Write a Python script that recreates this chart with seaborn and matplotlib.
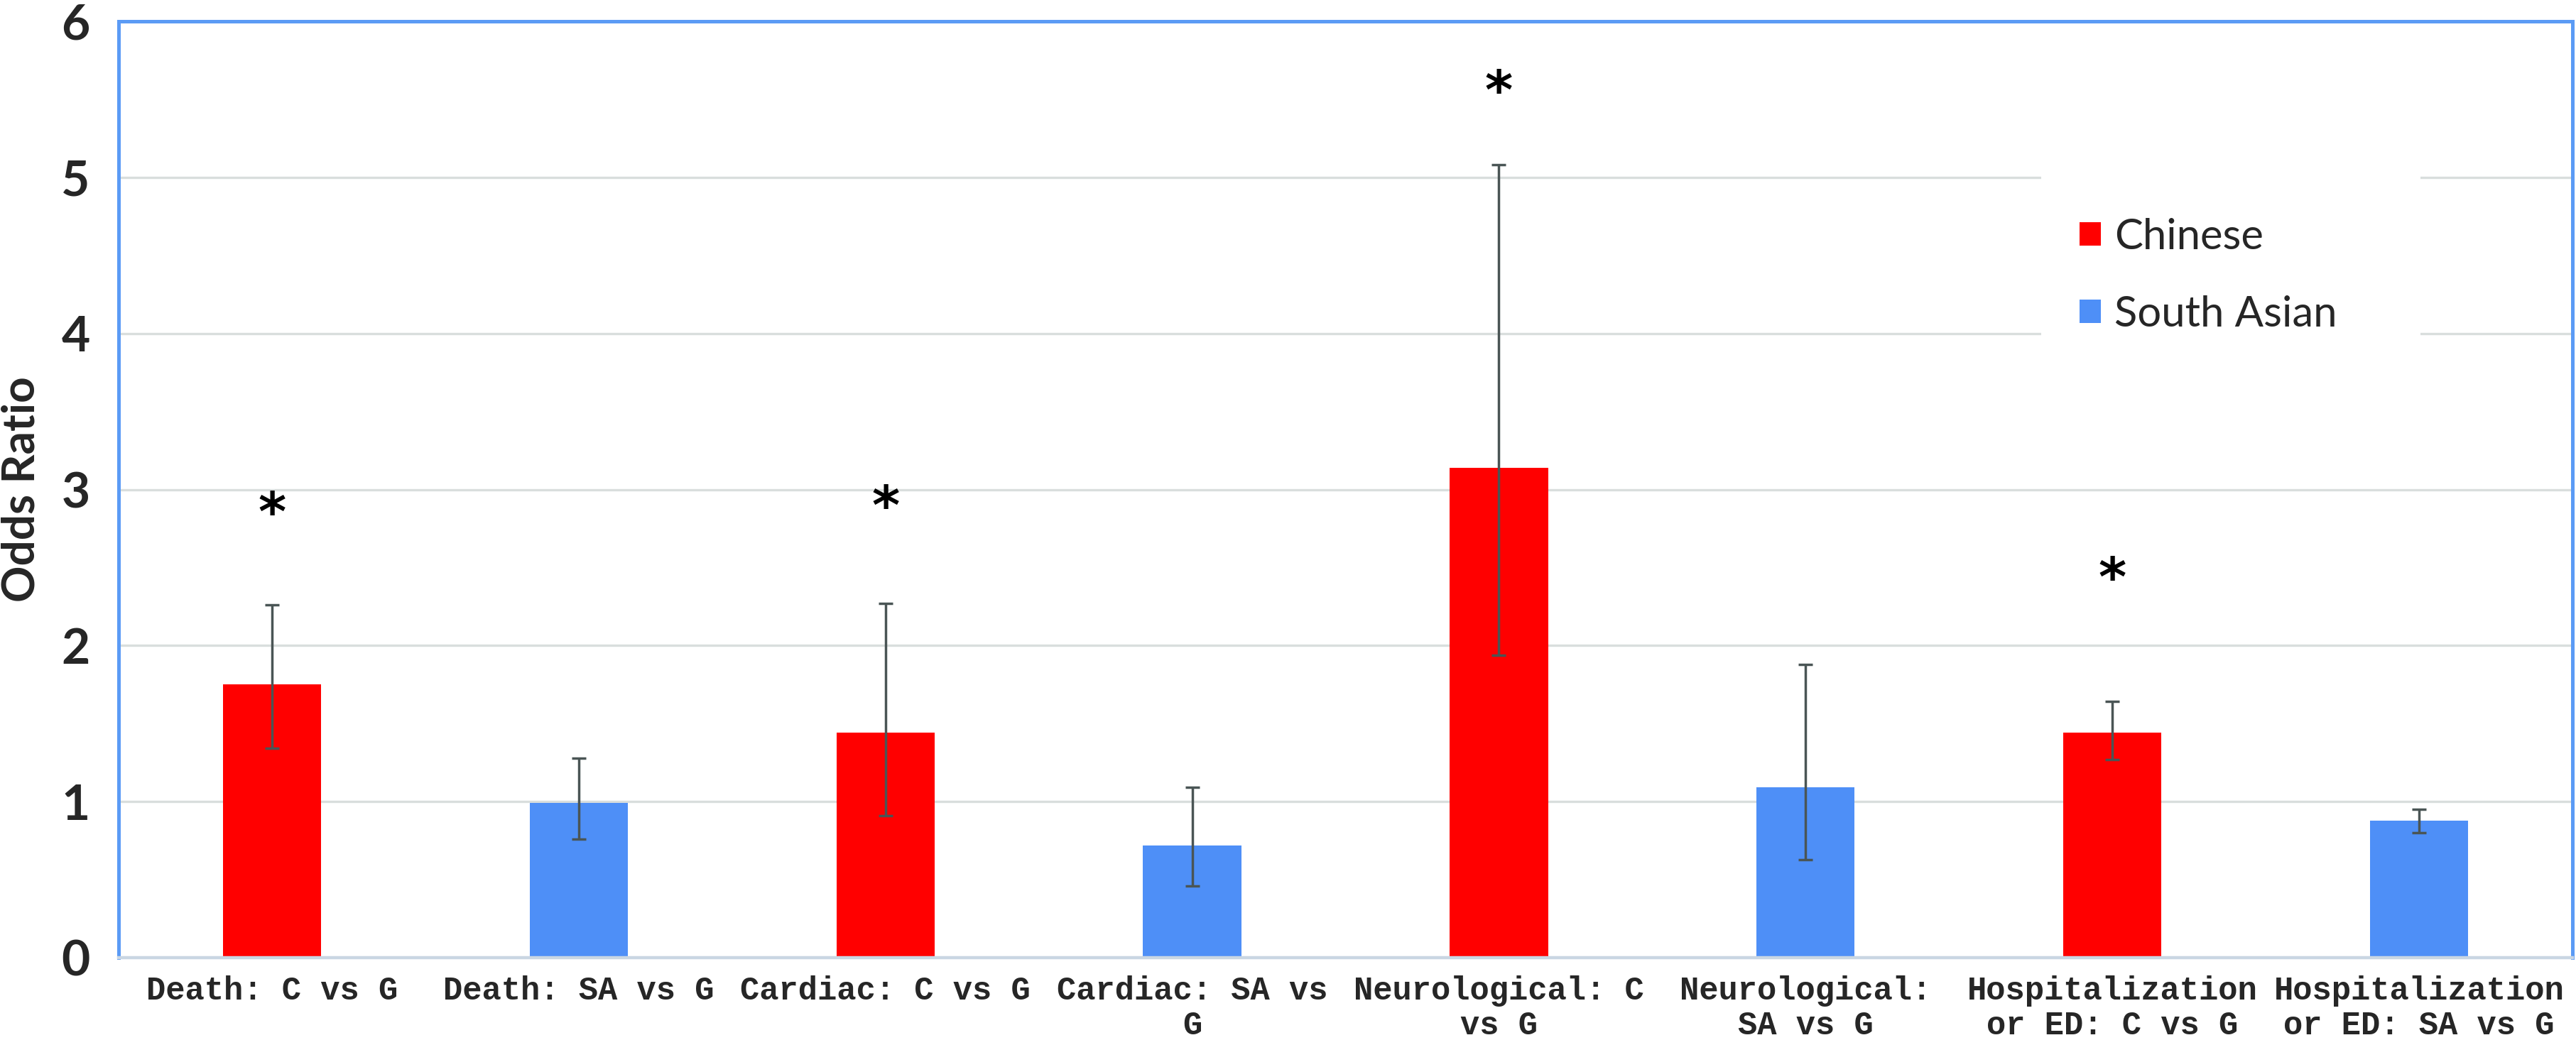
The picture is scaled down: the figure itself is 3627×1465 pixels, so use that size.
import pandas as pd
import matplotlib.pyplot as plt
import seaborn as sns
from matplotlib.patches import Rectangle

# Values
comparisons = [
    "Death: C vs G", "Death: SA vs G", "Cardiac: C vs G", "Cardiac: SA vs\nG",
    "Neurological: C\nvs G", "Neurological:\nSA vs G",
    "Hospitalization\nor ED: C vs G", "Hospitalization\nor ED: SA vs G",
]
groups = ["Chinese", "South Asian", "Chinese", "South Asian",
          "Chinese", "South Asian", "Chinese", "South Asian"]
odds_ratio = [1.75, 0.99, 1.44, 0.72, 3.14, 1.09, 1.44, 0.88]
ci_lower = [1.34, 0.76, 0.91, 0.46, 1.94, 0.63, 1.27, 0.80]
ci_upper = [2.26, 1.28, 2.27, 1.09, 5.08, 1.88, 1.64, 0.95]
significant = [True, False, True, False, True, False, True, False]
star_y = [2.92, None, 2.96, None, 5.62, None, 2.50, None]
y_ticks = [0, 1, 2, 3, 4, 5, 6]

RED = "#FF0000"
BLUE = "#4E8FF7"
SPINE = "#5B9BF5"
GRID = "#D9DEDD"
ERR = "#4A5555"


def main():
    df = pd.DataFrame({"comparison": comparisons, "group": groups,
                       "odds_ratio": odds_ratio})

    sns.set_theme(style="white")
    plt.rcParams["font.family"] = ["Lato", "DejaVu Sans"]

    W, H = 3627, 1465
    fig = plt.figure(figsize=(W / 200, H / 200), dpi=200)
    ax = fig.add_axes([167 / W, 1 - 1349 / H, 3455 / W, 1319 / H])

    sns.barplot(data=df, x="comparison", y="odds_ratio", hue="group",
                order=comparisons, hue_order=["Chinese", "South Asian"],
                palette={"Chinese": RED, "South Asian": BLUE},
                dodge=False, width=0.32, saturation=1, errorbar=None,
                linewidth=0, ax=ax)

    # asymmetric 95% CI error bars
    xs = list(range(len(comparisons)))
    yerr = [[v - lo for v, lo in zip(odds_ratio, ci_lower)],
            [hi - v for v, hi in zip(odds_ratio, ci_upper)]]
    ax.errorbar(xs, odds_ratio, yerr=yerr, fmt="none", ecolor=ERR,
                elinewidth=1.25, capsize=3.5, capthick=1.25, zorder=3)

    # significance stars
    fs_star = 27
    for x, sig, sy in zip(xs, significant, star_y):
        if sig:
            ax.annotate("*", xy=(x, sy), xytext=(0, -0.53 * fs_star),
                        textcoords="offset points", ha="center", va="baseline",
                        fontsize=fs_star, fontweight="bold",
                        family="DejaVu Sans", color="black")

    ax.set_ylim(0, 6)
    ax.set_xlim(-0.5, len(comparisons) - 0.5)
    ax.set_yticks(y_ticks)
    ax.yaxis.grid(True, color=GRID, linewidth=1.2)
    ax.set_axisbelow(True)

    for side in ["left", "top", "right"]:
        ax.spines[side].set_color(SPINE)
        ax.spines[side].set_linewidth(1.8)
    ax.spines["bottom"].set_color("#C9D6E3")
    ax.spines["bottom"].set_linewidth(1.6)

    ax.tick_params(axis="both", length=0)
    ax.tick_params(axis="y", pad=14.5)
    ax.tick_params(axis="x", pad=9)
    for lab in ax.get_yticklabels():
        lab.set_fontsize(25)
        lab.set_fontweight("bold")
        lab.set_family(["Lato", "DejaVu Sans"])
    for lab in ax.get_xticklabels():
        lab.set_fontsize(16.4)
        lab.set_fontweight("bold")
        lab.set_family(["Liberation Mono", "DejaVu Sans Mono"])
        lab.set_linespacing(1.15)
        lab.set_ha("center")

    ax.set_xlabel("")
    ax.set_ylabel("Odds Ratio", fontsize=23, fontweight="bold", labelpad=10)

    # white box behind the legend (hides the gridlines there)
    ax.add_patch(Rectangle((0.7835, 0.655), 0.1545, 0.19, transform=ax.transAxes,
                           facecolor="white", edgecolor="none", zorder=2))

    handles, labels = ax.get_legend_handles_labels()
    if ax.get_legend() is not None:
        ax.get_legend().remove()
    leg = ax.legend(handles, labels, loc="upper left",
                    bbox_to_anchor=(2898 / W, 1 - 277 / H),
                    bbox_transform=fig.transFigure, frameon=False,
                    borderpad=0, fontsize=21.5, handlelength=0.5,
                    handleheight=0.47, handletextpad=0.33, labelspacing=0.92)
    leg.set_zorder(4)

    fig.savefig("out.png", dpi=200)
    plt.close(fig)


if __name__ == "__main__":
    main()
